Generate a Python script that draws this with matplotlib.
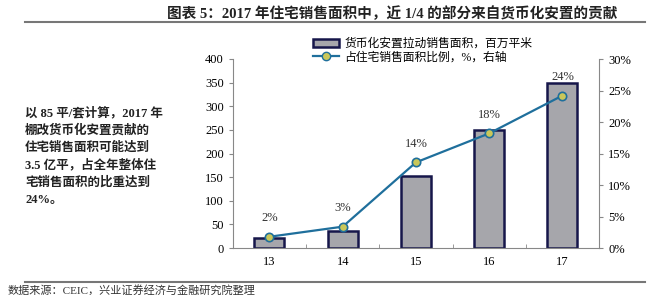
import numpy as np
import matplotlib
matplotlib.use('Agg')
import matplotlib.pyplot as plt
from matplotlib.patches import Patch
from matplotlib.lines import Line2D

plt.rcParams['font.family'] = ['Liberation Serif', 'Noto Sans CJK SC']

years = ['13', '14', '15', '16', '17']
area = [22, 36, 153, 249, 350]          # 百万平米
share = [1.8, 3.4, 13.6, 18.2, 24.2]    # %, right axis
share_labels = ['2%', '3%', '14%', '18%', '24%']

bar_face = '#a6a6ab'
bar_edge = '#16164a'
line_col = '#1f6f9c'
marker_col = '#c9c75a'

fig = plt.figure(figsize=(6.54, 2.95), dpi=100)
ax = fig.add_axes([0.356, 0.159, 0.56, 0.641])
x = np.arange(len(years))
ax.bar(x, area, width=0.41, color=bar_face, edgecolor=bar_edge, linewidth=1.8, zorder=2)
ax.set_xlim(-0.5, 4.5)
ax.set_ylim(0, 400)
ax.set_yticks(range(0, 401, 50))
ax.set_xticks(x)
ax.set_xticklabels(years)
ax.set_xticks(np.arange(0.5, 4.5, 1), minor=True)
ax.tick_params(axis='x', which='major', length=0, labelsize=9, pad=6)
ax.tick_params(axis='x', which='minor', length=3, direction='in', color='#888888')
ax.tick_params(axis='y', length=3, direction='out', labelsize=9, color='#888888')
for s in ['top', 'right']:
    ax.spines[s].set_visible(False)
for s in ['left', 'bottom']:
    ax.spines[s].set_color('#888888')

ax2 = ax.twinx()
ax2.plot(x, share, color=line_col, linewidth=1.6, marker='o', markersize=6,
         markerfacecolor=marker_col, markeredgecolor=line_col, markeredgewidth=1.2, zorder=3)
ax2.set_ylim(0, 30)
ax2.set_yticks(range(0, 31, 5))
ax2.set_yticklabels([f'{v}%' for v in range(0, 31, 5)])
ax2.tick_params(axis='y', length=3, direction='out', labelsize=9, color='#888888')
for s in ['top', 'left', 'bottom']:
    ax2.spines[s].set_visible(False)
ax2.spines['right'].set_color('#888888')
for xi, v, lab in zip(x, share, share_labels):
    ax2.annotate(lab, (xi, v), xytext=(0, 9), textcoords='offset points',
                 ha='center', va='bottom', fontsize=9, color='#333333')

handles = [Patch(facecolor=bar_face, edgecolor=bar_edge, linewidth=1.8),
           Line2D([0], [0], color=line_col, linewidth=1.6, marker='o', markersize=6,
                  markerfacecolor=marker_col, markeredgecolor=line_col)]
fig.legend(handles, ['货币化安置拉动销售面积，百万平米', '占住宅销售面积比例，%，右轴'],
           loc='upper left', bbox_to_anchor=(0.478, 1 - 38 / 295), frameon=False,
           fontsize=8.5, handlelength=2.2, handletextpad=0.5, labelspacing=0.1,
           borderaxespad=0, borderpad=0)

fig.text(0.6, 1 - 14 / 295, '图表 5：2017 年住宅销售面积中，近 1/4 的部分来自货币化安置的贡献',
         ha='center', va='center', fontsize=10.5, fontweight='bold', color='#222222')
fig.add_artist(Line2D([25 / 654, 645 / 654], [1 - 22 / 295] * 2, color='#777777', linewidth=1.5))
fig.add_artist(Line2D([25 / 654, 645 / 654], [1 - 282 / 295] * 2, color='#777777', linewidth=1.5))
fig.text(8 / 654, 1 - 290 / 295, '数据来源：CEIC，兴业证券经济与金融研究院整理',
         ha='left', va='center', fontsize=8, color='#333333')

side = ['以 85 平/套计算，2017 年', '棚改货币化安置贡献的', '住宅销售面积可能达到',
        '3.5 亿平，占全年整体住', '宅销售面积的比重达到', '24%。']
for i, t in enumerate(side):
    fig.text(25 / 654, 1 - (113 + i * 17.5) / 295, t, ha='left', va='center',
             fontsize=9, fontweight='bold', color='#222222')

fig.savefig('out.png', dpi=100)
